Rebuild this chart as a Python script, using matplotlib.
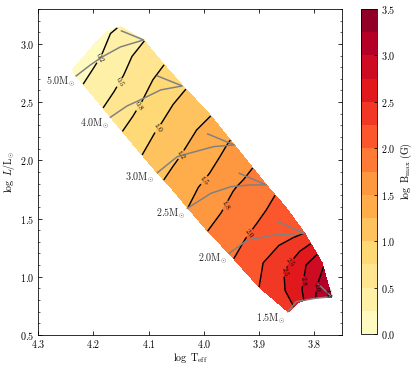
import numpy as np
import matplotlib
matplotlib.use("Agg")
import matplotlib.pyplot as plt
from matplotlib.ticker import MultipleLocator

plt.rcParams['font.family'] = 'serif'
plt.rcParams['font.serif'] = ['cmr10']
plt.rcParams['mathtext.fontset'] = 'cm'
plt.rcParams['axes.formatter.use_mathtext'] = True
plt.rcParams['axes.unicode_minus'] = False

# ==== field grid: rows = stellar masses (plus upper envelope), cols = ZAMS -> turn-off ====
grid_mass = ["top", 5.0, 4.5, 4.0, 3.5, 3.0, 2.75, 2.5, 2.25, 2.0, 1.75, 1.5]
logT_grid = [
    [4.238, 4.216, 4.195, 4.173, 4.151],
    [4.231, 4.205, 4.182, 4.151, 4.109],
    [4.200, 4.169, 4.142, 4.109, 4.075],
    [4.169, 4.142, 4.115, 4.078, 4.038],
    [4.127, 4.100, 4.069, 4.033, 3.989],
    [4.084, 4.060, 4.024, 3.982, 3.945],
    [4.056, 4.033, 3.996, 3.956, 3.916],
    [4.029, 3.987, 3.951, 3.915, 3.887],
    [3.993, 3.960, 3.924, 3.887, 3.851],
    [3.955, 3.920, 3.873, 3.842, 3.818],
    [3.900, 3.875, 3.845, 3.815, 3.786],
    [3.847, 3.831, 3.811, 3.789, 3.769],
]
logL_grid = [
    [2.777, 2.897, 3.017, 3.112, 3.146],
    [2.725, 2.828, 2.906, 2.991, 3.034],
    [2.553, 2.639, 2.717, 2.794, 2.837],
    [2.373, 2.450, 2.519, 2.605, 2.639],
    [2.132, 2.210, 2.287, 2.356, 2.390],
    [1.892, 1.978, 2.064, 2.115, 2.132],
    [1.746, 1.814, 1.883, 1.935, 1.960],
    [1.591, 1.720, 1.771, 1.789, 1.789],
    [1.393, 1.471, 1.531, 1.574, 1.591],
    [1.204, 1.316, 1.359, 1.368, 1.376],
    [0.912, 0.990, 1.058, 1.101, 1.119],
    [0.698, 0.775, 0.809, 0.826, 0.826],
]
logB_grid = [
    [0.08, 0.13, 0.18, 0.22, 0.26],
    [0.16, 0.21, 0.26, 0.38, 0.49],
    [0.38, 0.45, 0.52, 0.62, 0.73],
    [0.59, 0.65, 0.73, 0.86, 0.97],
    [0.90, 0.97, 1.05, 1.14, 1.24],
    [1.18, 1.22, 1.30, 1.42, 1.55],
    [1.35, 1.40, 1.48, 1.60, 1.72],
    [1.50, 1.60, 1.72, 1.82, 1.92],
    [1.75, 1.82, 1.92, 2.00, 2.10],
    [1.95, 2.02, 2.12, 2.18, 2.25],
    [2.25, 2.40, 2.55, 2.75, 2.95],
    [2.35, 2.60, 2.85, 3.10, 3.35],
]

# ==== evolutionary tracks (gray) ====
track_labels = ["5.0", "4.0", "3.0", "2.5", "2.0", "1.5"]
track_logT = [
    [4.231, 4.205, 4.184, 4.151, 4.109, 4.149],
    [4.169, 4.139, 4.115, 4.078, 4.039, 4.084],
    [4.084, 4.048, 4.024, 3.982, 3.945, 3.993],
    [4.030, 3.987, 3.951, 3.915, 3.887, 3.936],
    [3.954, 3.921, 3.872, 3.818, 3.866],
    [3.848, 3.833, 3.799, 3.769, 3.793],
]
track_logL = [
    [2.725, 2.820, 2.888, 2.974, 3.034, 3.112],
    [2.370, 2.467, 2.519, 2.605, 2.639, 2.725],
    [1.894, 2.032, 2.064, 2.118, 2.132, 2.227],
    [1.588, 1.717, 1.774, 1.789, 1.789, 1.889],
    [1.202, 1.316, 1.359, 1.374, 1.473],
    [0.700, 0.786, 0.815, 0.829, 0.938],
]
label_offsets = [(-1, -6), (-1, -7), (-3, -5), (-2, -6), (-2, -6), (-2, -7)]

# contour label spots
clabel_T = [4.185, 4.151, 4.118, 4.075, 4.038, 4.000, 3.962, 3.918, 3.869, 3.838, 3.811, 3.800, 3.782]
clabel_L = [2.863, 2.665, 2.467, 2.247, 2.038, 1.832, 1.617, 1.376, 1.084, 1.101, 0.955, 0.920, 0.869]

levels = np.arange(0, 3.51, 0.25)
T = np.array(logT_grid)
L = np.array(logL_grid)
B = np.array(logB_grid)

fig = plt.figure(figsize=(415 / 72, 368 / 72), dpi=72)
ax = fig.add_axes([0.0916, 0.0897, 0.7325, 0.8859])
cax = fig.add_axes([0.870, 0.0924, 0.0386, 0.883])

cf = ax.contourf(T, L, B, levels=levels, cmap="YlOrRd")
cs = ax.contour(T, L, B, levels=levels[1:-1], colors="k", linewidths=1.4)
ax.clabel(cs, fmt="%.1f", fontsize=7.5, inline=True, inline_spacing=1,
          manual=list(zip(clabel_T, clabel_L)))

for lab, tT, tL, off in zip(track_labels, track_logT, track_logL, label_offsets):
    ax.plot(tT, tL, color="0.5", lw=1.5, zorder=3)
    ax.annotate(lab + r"M$_{\odot}$", (tT[0], tL[0]), xytext=off,
                textcoords="offset points", ha="right", va="center",
                fontsize=10, color="0.15")

ax.set_xlim(4.3, 3.75)
ax.set_ylim(0.5, 3.3)
ax.xaxis.set_major_locator(MultipleLocator(0.1))
ax.yaxis.set_major_locator(MultipleLocator(0.5))
ax.yaxis.set_minor_locator(MultipleLocator(0.1))
ax.tick_params(direction="in", top=True, right=True, which="both", labelsize=10)
ax.tick_params(which="major", length=4)
ax.tick_params(which="minor", length=2)
ax.set_xlabel(r"$\log\ \mathrm{T}_{\rm eff}$", fontsize=10, labelpad=1)
ax.set_ylabel(r"$\log\ L/\mathrm{L}_{\odot}$", fontsize=10, labelpad=3)

cbar = fig.colorbar(cf, cax=cax, ticks=np.arange(0, 3.51, 0.5))
cbar.ax.tick_params(labelsize=10, direction="in", length=3)
cbar.set_label(r"$\log\ \mathrm{B}_{\rm max}\ (\mathrm{G})$", fontsize=10)

plt.savefig("out.png", dpi=72)
